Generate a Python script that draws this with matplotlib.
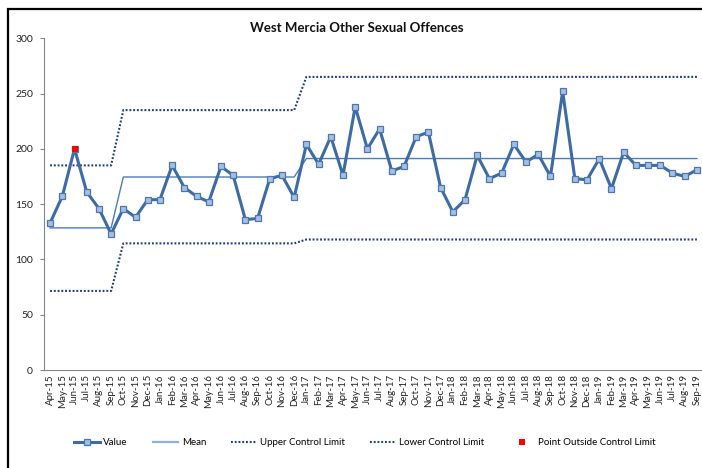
import matplotlib
matplotlib.use("Agg")
import matplotlib.pyplot as plt
from matplotlib.lines import Line2D
from matplotlib.patches import Rectangle

plt.rcParams['font.family'] = ['Lato', 'DejaVu Sans']

months = ["Apr-15", "May-15", "Jun-15", "Jul-15", "Aug-15", "Sep-15", "Oct-15", "Nov-15", "Dec-15",
          "Jan-16", "Feb-16", "Mar-16", "Apr-16", "May-16", "Jun-16", "Jul-16", "Aug-16", "Sep-16",
          "Oct-16", "Nov-16", "Dec-16", "Jan-17", "Feb-17", "Mar-17", "Apr-17", "May-17", "Jun-17",
          "Jul-17", "Aug-17", "Sep-17", "Oct-17", "Nov-17", "Dec-17", "Jan-18", "Feb-18", "Mar-18",
          "Apr-18", "May-18", "Jun-18", "Jul-18", "Aug-18", "Sep-18", "Oct-18", "Nov-18", "Dec-18",
          "Jan-19", "Feb-19", "Mar-19", "Apr-19", "May-19", "Jun-19", "Jul-19", "Aug-19", "Sep-19"]

values = [133, 157, 200, 161, 146, 123, 146, 138, 154,
          154, 185, 165, 157, 152, 184, 176, 136, 137, 173, 176, 156,
          204, 186, 211, 176, 238, 200, 218, 180, 184, 211, 215, 165,
          143, 154, 194, 173, 178, 204, 188, 195, 175, 252, 173, 172,
          191, 164, 197, 185, 185, 185, 178, 175, 181]

# control chart stages (lengths in months)
stage_lengths = [6, 15, 33]
stage_mean = [128.5, 174.5, 191.2]
stage_ucl = [185.0, 235.0, 265.0]
stage_lcl = [71.5, 114.5, 118.0]

mean = [m for m, n in zip(stage_mean, stage_lengths) for _ in range(n)]
ucl = [u for u, n in zip(stage_ucl, stage_lengths) for _ in range(n)]
lcl = [l for l, n in zip(stage_lcl, stage_lengths) for _ in range(n)]

outside_idx = [i for i, v in enumerate(values) if v > ucl[i] or v < lcl[i]]
outside_vals = [values[i] for i in outside_idx]

x = list(range(len(months)))

fig = plt.figure(figsize=(7.02, 4.68), dpi=100)
ax = fig.add_axes([44/702, 98/468, 659/702, 331.8/468])

line_col = '#3C6BA5'
dot_col = '#1F3F7A'
dot_style = (0, (0.9, 0.9))

ax.plot(x, ucl, color=dot_col, lw=1.5, linestyle=dot_style, dash_capstyle='butt', zorder=2)
ax.plot(x, lcl, color=dot_col, lw=1.5, linestyle=dot_style, dash_capstyle='butt', zorder=2)
ax.plot(x, mean, color='#4A7EBB', lw=1.0, zorder=3)
ax.plot(x, values, color=line_col, lw=2.2, marker='s', markersize=4.8,
        markerfacecolor='#A7BFE0', markeredgecolor='#4A77B0', markeredgewidth=0.9, zorder=4)
ax.plot(outside_idx, outside_vals, linestyle='none', marker='s', markersize=4.2,
        color='#FF0000', markeredgewidth=0, zorder=5)

ax.set_xlim(-0.5, 53.5)
ax.set_ylim(0, 300)
ax.set_yticks(range(0, 301, 50))
ax.set_xticks(x)
ax.set_xticklabels(months, rotation=90, fontsize=7, color='#222222')
ax.tick_params(axis='x', length=0, pad=3)
ax.tick_params(axis='y', length=3, width=0.8, color='#868686', labelsize=7.5, labelcolor='#222222', pad=5)
for s in ['top', 'right']:
    ax.spines[s].set_visible(False)
for s in ['left', 'bottom']:
    ax.spines[s].set_color('#868686')
    ax.spines[s].set_linewidth(0.8)

fig.text(357/702, (468-27.5)/468, 'West Mercia Other Sexual Offences', ha='center', va='center',
         fontsize=9.5, fontweight='bold', color='#111111')

handles = [
    Line2D([], [], color=line_col, lw=2.2, marker='s', markersize=4.8,
           markerfacecolor='#A7BFE0', markeredgecolor='#4A77B0', markeredgewidth=0.9),
    Line2D([], [], color='#8DB0DC', lw=1.6),
    Line2D([], [], color=dot_col, lw=1.5, linestyle=dot_style, dash_capstyle='butt'),
    Line2D([], [], color=dot_col, lw=1.5, linestyle=dot_style, dash_capstyle='butt'),
    Line2D([], [], linestyle='none', marker='s', markersize=4.2, color='#FF0000', markeredgewidth=0),
]
labels = ['Value', 'Mean', 'Upper Control Limit', 'Lower Control Limit', 'Point Outside Control Limit']
fig.legend(handles, labels, loc='center', bbox_to_anchor=(365/702, 25.3/468), ncol=5,
           frameon=False, fontsize=7, handlelength=2.6, handletextpad=0.35, columnspacing=2.6)

border = Rectangle((8/702, -0.05), 1.2, (468-9)/468 + 0.05, transform=fig.transFigure,
                   fill=False, edgecolor='#000000', linewidth=1.6, clip_on=False)
fig.patches.append(border)

fig.savefig('out.png', dpi=100)
